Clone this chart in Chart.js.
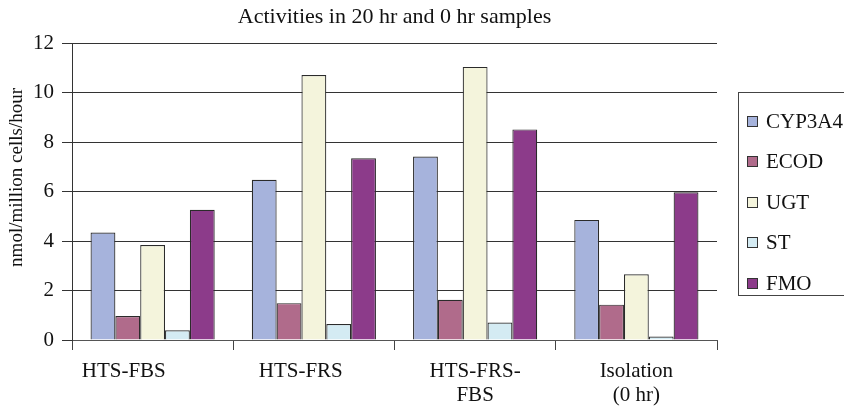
<!DOCTYPE html>
<html>
<head>
<meta charset="utf-8">
<script src="https://cdn.jsdelivr.net/npm/chart.js@4"></script>
<style>
  html, body { margin: 0; padding: 0; background: #fff; overflow: hidden; }
  #wrap { position: relative; width: 844px; height: 409px; }
  #legend {
    position: absolute; left: 738px; top: 92px; width: 120px; height: 204px;
    border: 1px solid #444; box-sizing: border-box;
    font-family: "Liberation Serif", serif; font-size: 21px; color: #111;
    padding-top: 8px;
  }
  .item { display: flex; align-items: center; height: 40.5px; padding-left: 8px; }
  .box { width: 9px; height: 9px; border: 1px solid #333; margin-right: 8px; }
</style>
</head>
<body>
<div id="wrap">
  <canvas id="chart" width="844" height="409"></canvas>
  <div id="legend"></div>
</div>
<script>
// categories and series (nmol/million cells/hour)
const categories = [['HTS-FBS'], ['HTS-FRS'], ['HTS-FRS-', 'FBS'], ['Isolation', '(0 hr)']];
const seriesNames = ['CYP3A4', 'ECOD', 'UGT', 'ST', 'FMO'];
const cyp3a4 = [4.35, 6.48, 7.42, 4.86];
const ecod = [0.97, 1.49, 1.63, 1.43];
const ugt = [3.84, 10.72, 11.05, 2.66];
const st = [0.39, 0.65, 0.71, 0.14];
const fmo = [5.27, 7.35, 8.52, 5.98];
const yTicks = [0, 2, 4, 6, 8, 10, 12];

const colors = ['#a6b3dc', '#b06b8b', '#f4f4dc', '#d4ebf3', '#8c3b8a'];
// excel-style left shift of the single-line labels (in spaces)
const labelPad = [11, 5, 0, 0];

const serif = '"Liberation Serif", serif';

const ctx = document.getElementById('chart').getContext('2d');
new Chart(ctx, {
    type: 'bar',
    data: {
        labels: categories,
        datasets: [cyp3a4, ecod, ugt, st, fmo].map((vals, i) => ({
            label: seriesNames[i],
            data: vals,
            backgroundColor: colors[i],
            borderColor: '#2b2b2b',
            borderWidth: 1.2,
            categoryPercentage: 0.77,
            barPercentage: 1.0
        }))
    },
    options: {
        responsive: false,
        animation: false,
        layout: { padding: { left: 0, right: 127, top: 0, bottom: 0 } },
        plugins: {
            legend: { display: false },
            tooltip: { enabled: false },
            title: {
                display: true,
                fullSize: false,
                text: 'Activities in 20 hr and 0 hr samples',
                color: '#111',
                font: { family: serif, size: 22, weight: 'normal' },
                padding: { top: 4, bottom: 13 }
            }
        },
        scales: {
            x: {
                grid: { drawOnChartArea: false, offset: true, tickLength: 10, color: '#444' },
                border: { color: '#555' },
                ticks: {
                    color: '#111',
                    font: { family: serif, size: 21, lineHeight: 1.15 },
                    padding: 9,
                    maxRotation: 0,
                    autoSkip: false,
                    callback: function (value, index) {
                        const lab = categories[index];
                        if (lab.length === 1) return lab[0] + '\u00a0'.repeat(labelPad[index]);
                        return lab;
                    }
                },
                afterFit: s => { s.height = 69; }
            },
            y: {
                min: 0,
                max: 12,
                afterBuildTicks: s => { s.ticks = yTicks.map(v => ({ value: v })); },
                grid: { color: '#333', tickLength: 10 },
                border: { color: '#333' },
                ticks: {
                    color: '#111',
                    font: { family: serif, size: 21 },
                    padding: 8
                },
                title: {
                    display: true,
                    text: '\u00a0'.repeat(6) + 'nmol/million cells/hour',
                    color: '#111',
                    font: { family: serif, size: 19 },
                    padding: { top: 6, bottom: 0 }
                },
                afterFit: s => { s.width = 72; }
            }
        }
    }
});

// legend box
const legend = document.getElementById('legend');
seriesNames.forEach((name, i) => {
    const row = document.createElement('div');
    row.className = 'item';
    const box = document.createElement('span');
    box.className = 'box';
    box.style.background = colors[i];
    const txt = document.createElement('span');
    txt.textContent = name;
    row.appendChild(box);
    row.appendChild(txt);
    legend.appendChild(row);
});
</script>
</body>
</html>
